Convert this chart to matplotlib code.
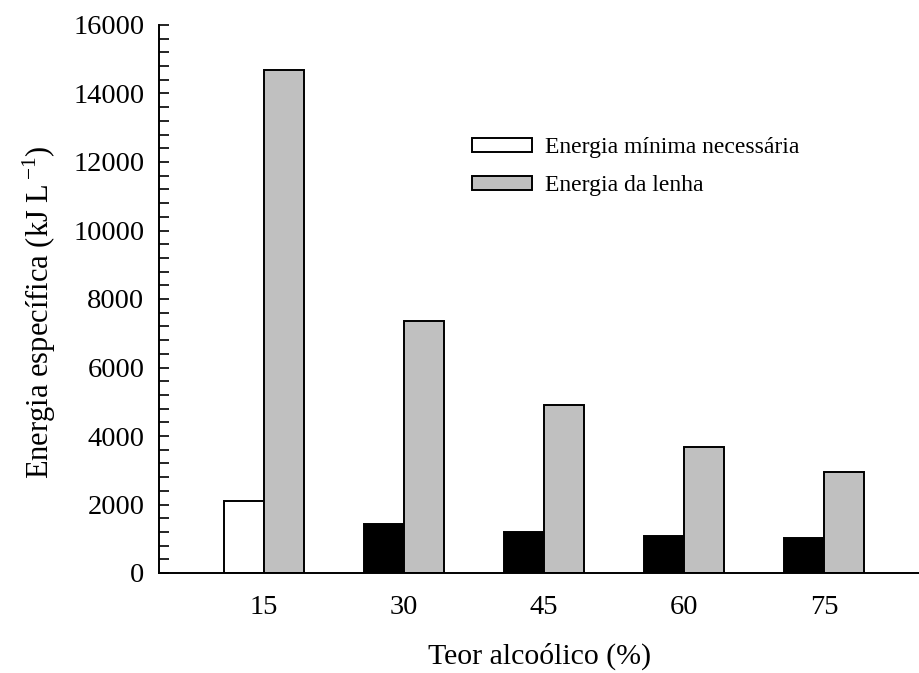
import matplotlib
matplotlib.use("Agg")
import matplotlib.pyplot as plt
from matplotlib.patches import Patch
import numpy as np

plt.rcParams['font.family'] = ['Liberation Serif', 'DejaVu Serif']
plt.rcParams['mathtext.fontset'] = 'custom'
plt.rcParams['mathtext.rm'] = 'Liberation Serif'

teor = [15, 30, 45, 60, 75]
energia_minima = [2110, 1420, 1200, 1080, 1020]
energia_lenha = [14700, 7350, 4900, 3670, 2940]
min_colors = ['white', 'black', 'black', 'black', 'black']
yticks = [0, 2000, 4000, 6000, 8000, 10000, 12000, 14000, 16000]

fig = plt.figure(figsize=(9.2, 6.73), dpi=100)
ax = fig.add_axes([159/920, 1-573/673, 1-159/920, (573-25)/673])

w = 4.29
x = np.array(teor, dtype=float)
ax.bar(x - w/2, energia_minima, width=w, color=min_colors, edgecolor='black', linewidth=1.4)
ax.bar(x + w/2, energia_lenha, width=w, color='#c0c0c0', edgecolor='black', linewidth=1.4)

ax.set_xlim(3.75, 85.3)
ax.set_ylim(0, 16000)
ax.set_yticks(yticks)
ax.set_yticks(np.arange(0, 16001, 400), minor=True)
ax.set_xticks(teor)
ax.set_xticklabels([str(t) for t in teor])
ax.tick_params(axis='y', which='both', direction='in', length=7, width=1.2, labelsize=20.5, pad=10.5)
ax.tick_params(axis='x', which='both', length=0, labelsize=20.5, pad=16)
for s in ['top', 'right']:
    ax.spines[s].set_visible(False)
for s in ['left', 'bottom']:
    ax.spines[s].set_linewidth(1.4)

ax.set_ylabel(r'Energia específica (kJ L$^{\,\mathrm{-1}}$)', fontsize=22)
ax.yaxis.set_label_coords(-0.133, 0.476)
ax.set_xlabel('Teor alcoólico (%)', fontsize=21.5, labelpad=16)

handles = [Patch(facecolor='white', edgecolor='black', linewidth=1.4),
           Patch(facecolor='#c0c0c0', edgecolor='black', linewidth=1.4)]
ax.legend(handles, ['Energia mínima necessária', 'Energia da lenha'],
          loc='upper left', bbox_to_anchor=(0.411, 0.795), frameon=False,
          fontsize=17, handlelength=2.54, handleheight=0.55, labelspacing=0.72,
          handletextpad=0.55, borderpad=0, borderaxespad=0)

fig.savefig('out.png', dpi=100)
